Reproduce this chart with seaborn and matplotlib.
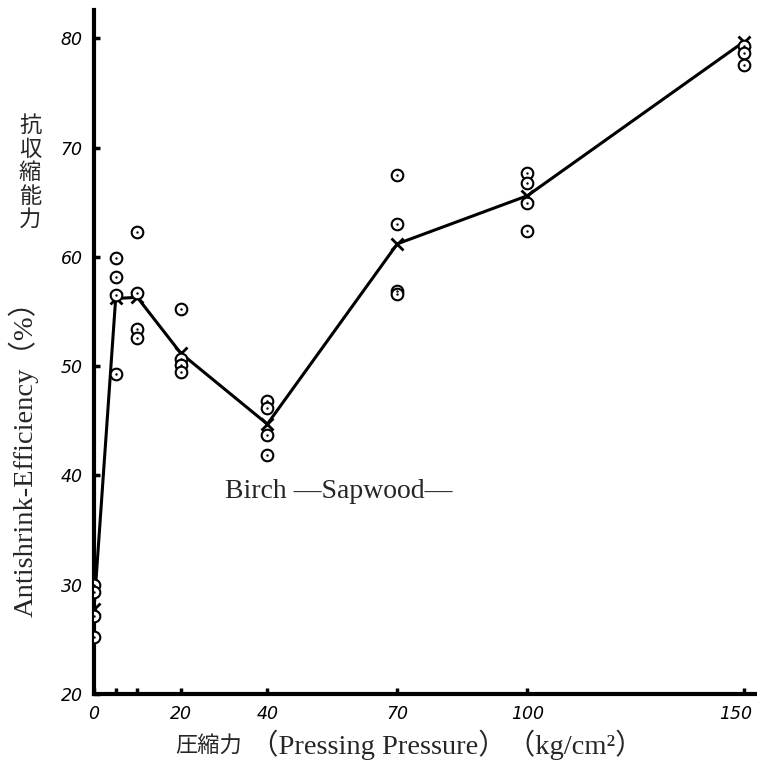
import matplotlib
matplotlib.use("Agg")
import matplotlib.pyplot as plt
import matplotlib.transforms as mtransforms
import seaborn as sns
import pandas as pd

# ---- data ----
pressure_levels = [0, 5, 10, 20, 40, 70, 100, 150]
obs_0 = [30.0, 29.3, 27.1, 25.2]
obs_5 = [59.9, 58.2, 56.5, 49.3]
obs_10 = [62.3, 56.7, 53.4, 52.6]
obs_20 = [55.2, 50.7, 50.1, 49.5]
obs_40 = [46.8, 46.2, 43.7, 41.9]
obs_70 = [67.5, 63.0, 56.9, 56.6]
obs_100 = [67.7, 66.8, 64.9, 62.4]
obs_150 = [79.3, 78.7, 77.6]
mean_values = [27.8, 56.2, 56.3, 51.2, 44.7, 61.2, 65.6, 79.7]

x_ticks = [0, 5, 10, 20, 40, 70, 100, 150]
x_tick_labels = ["0", "", "", "20", "40", "70", "100", "150"]
y_ticks = [20, 30, 40, 50, 60, 70, 80]
y_tick_labels = ["20", "30", "40", "50", "60", "70", "80"]

obs_lists = [obs_0, obs_5, obs_10, obs_20, obs_40, obs_70, obs_100, obs_150]
rows = []
for p, vals in zip(pressure_levels, obs_lists):
    for v in vals:
        rows.append({"pressure": p, "ase": v})
obs_df = pd.DataFrame(rows)
mean_df = pd.DataFrame({"pressure": pressure_levels, "ase": mean_values})

sns.set_style("ticks")
plt.rcParams["font.family"] = ["Liberation Serif", "Noto Sans CJK JP", "DejaVu Sans"]

W, H = 757, 770
fig = plt.figure(figsize=(W / 100, H / 100), dpi=100)
ax = fig.add_axes([94 / W, 1 - 694 / H, (W - 94) / W, (694 - 10) / H])

# mean line with crosses
sns.lineplot(data=mean_df, x="pressure", y="ase", ax=ax, color="black",
             linewidth=2.2, marker="x", markersize=9, markeredgewidth=2.0,
             markeredgecolor="black", zorder=3)
# observations: open circles with centre dot
sns.scatterplot(data=obs_df, x="pressure", y="ase", ax=ax, marker="o", s=70,
                facecolor="white", edgecolor="black", linewidth=1.5, zorder=4)
sns.scatterplot(data=obs_df, x="pressure", y="ase", ax=ax, marker="o", s=3,
                color="black", linewidth=0, zorder=5)

ax.set_xlim(0, 153)
ax.set_ylim(20, 82.6)
sns.despine(ax=ax)
for s in ["left", "bottom"]:
    ax.spines[s].set_linewidth(3.0)
    ax.spines[s].set_color("black")

ax.set_xticks(x_ticks)
ax.set_xticklabels(x_tick_labels, fontstyle="italic", fontsize=12.5,
                   family=["DejaVu Sans"])
ax.set_yticks(y_ticks)
ax.set_yticklabels(y_tick_labels, fontstyle="italic", fontsize=12.5,
                   family=["DejaVu Sans"])
ax.tick_params(axis="both", direction="in", length=4, width=2.5, colors="black",
               pad=8)
ax.set_xlabel("")
ax.set_ylabel("")
# keep the last x tick label inside the figure
last = ax.get_xticklabels()[-1]
last.set_transform(last.get_transform() +
                   mtransforms.ScaledTranslation(-6 / 72, 0, fig.dpi_scale_trans))

ax.text(30.2, 38.5, "Birch —Sapwood—", fontsize=20, va="center", ha="left",
        family=["Liberation Serif"])

# axis titles
fig.text(30 / W, 1 - 114 / H, "抗\n収\n縮\n能\n力", ha="center", va="top",
         fontsize=16, linespacing=1.03, family=["Noto Sans CJK JP"])
fig.text(24 / W, 1 - 452 / H, "Antishrink-Efficiency（%）", rotation=90,
         ha="center", va="center", fontsize=20.5,
         family=["Liberation Serif", "Noto Sans CJK JP"])
fig.text(175 / W, 1 - 745 / H, "圧縮力", ha="left", va="center", fontsize=16,
         family=["Noto Sans CJK JP"])
fig.text(250 / W, 1 - 745 / H, "（Pressing Pressure）（kg/cm²）", ha="left",
         va="center", fontsize=20.5,
         family=["Liberation Serif", "Noto Sans CJK JP"])

fig.savefig("out.png", dpi=100)
